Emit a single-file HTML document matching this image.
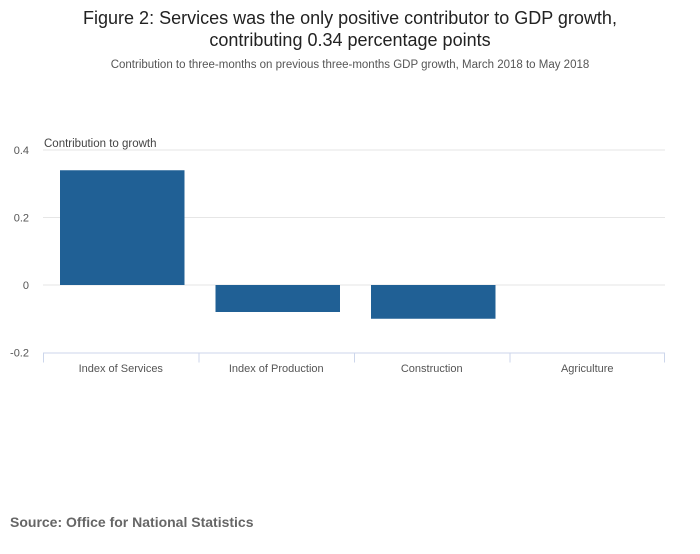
<!DOCTYPE html>
<html><head><meta charset="utf-8"><style>
body{margin:0;background:#fff;width:700px;height:549px;overflow:hidden;font-family:"Liberation Sans",sans-serif;}
</style></head><body>
<svg width="700" height="549" id="chart">
<text x="350" y="24" text-anchor="middle" font-size="18" fill="#222">Figure 2: Services was the only positive contributor to GDP growth,</text>
<text x="350" y="46" text-anchor="middle" font-size="18" fill="#222">contributing 0.34 percentage points</text>
<text x="350" y="68" text-anchor="middle" font-size="11.5" fill="#555">Contribution to three-months on previous three-months GDP growth, March 2018 to May 2018</text>
<text x="44" y="147" font-size="11.5" fill="#444">Contribution to growth</text>
<g id="grid"></g><g id="bars"></g><g id="xaxis"></g>
<text x="10" y="527" font-size="14" font-weight="bold" fill="#666">Source: Office for National Statistics</text>
</svg>
<script>
const categories=["Index of Services","Index of Production","Construction","Agriculture"];
const values=[0.34,-0.08,-0.10,0.0];
const ticks=[0.4,0.2,0,-0.2];
const tickLabels=["0.4","0.2","0","-0.2"];
const NS="http://www.w3.org/2000/svg";
const x0=43,x1=665,y0=285,pxPer=337.5;
const y=v=>y0-v*pxPer;
const band=(x1-x0)/categories.length;
const bx=i=>x0+i*band;
function mk(t,a,p){const e=document.createElementNS(NS,t);for(const k in a)e.setAttribute(k,a[k]);p.appendChild(e);return e;}
const grid=document.getElementById('grid'),bars=document.getElementById('bars'),xa=document.getElementById('xaxis');
ticks.forEach((t,i)=>{
 if(i<ticks.length-1){const l=mk('line',{x1:x0,x2:x1,y1:y(t),y2:y(t),stroke:'#e6e6e6','stroke-width':1},grid);
 
 }
 const tx=mk('text',{x:29,y:y(t)+4,'text-anchor':'end','font-size':11,fill:'#555'},grid);tx.textContent=tickLabels[i];
 
 
});
const ax=mk('line',{x1:x0,x2:x1,y1:y(-0.2)+0.5,y2:y(-0.2)+0.5,stroke:'#ccd6eb'},xa);


categories.forEach((c,i)=>{
 const v=values[i];const top=Math.min(y(v),y(0));const h=Math.abs(y(v)-y(0));
 const r=mk('rect',{x:bx(i)+17,y:top,width:band-31,height:h,fill:'#206095'},bars);
 
 
 const tk=mk('line',{x1:bx(i)+0.5,x2:bx(i)+0.5,y1:y(-0.2),y2:y(-0.2)+10,stroke:'#ccd6eb'},xa);
 
 
 const t=mk('text',{x:bx(i)+band/2,y:372,'text-anchor':'middle','font-size':11,fill:'#555'},xa);t.textContent=c;
 
 
});
const tk=mk('line',{x1:x1-0.5,x2:x1-0.5,y1:y(-0.2),y2:y(-0.2)+10,stroke:'#ccd6eb'},xa);


</script>
</body></html>
